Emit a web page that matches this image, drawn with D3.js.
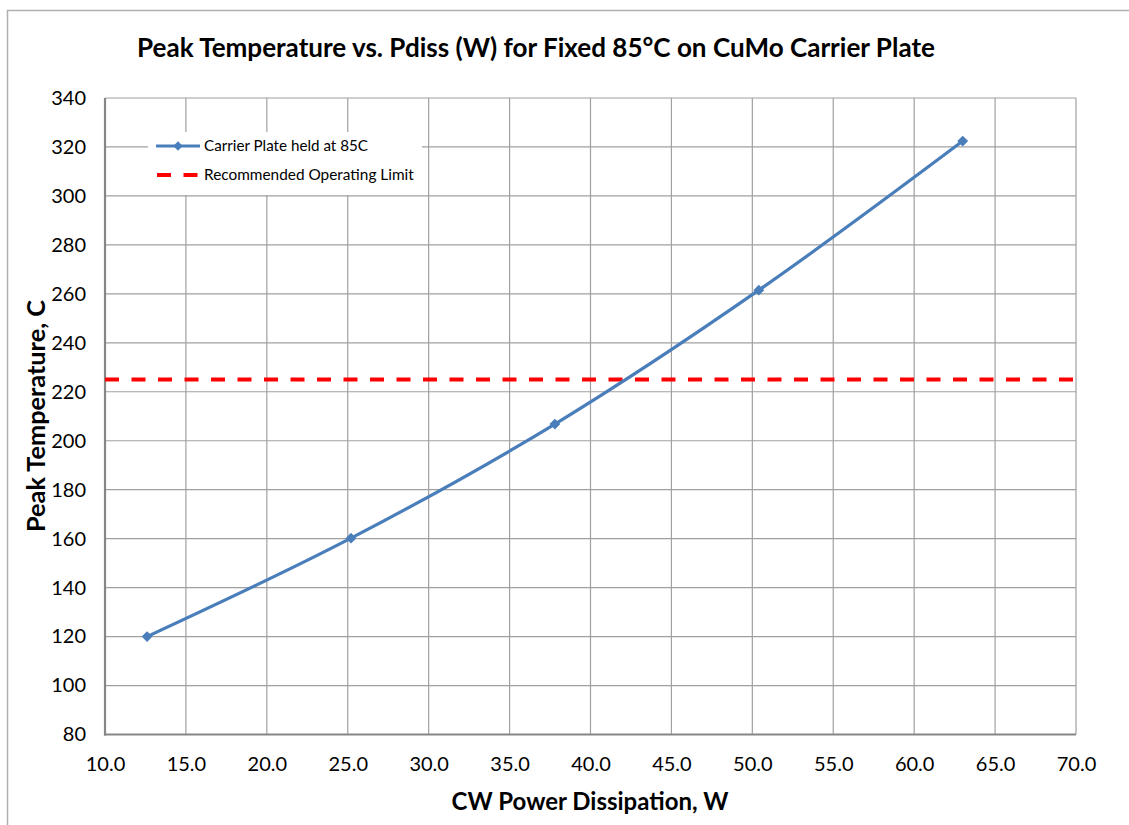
<!DOCTYPE html>
<html><head><meta charset="utf-8">
<script src="https://cdn.jsdelivr.net/npm/d3@7"></script>
<style>body{margin:0;background:#fff}svg{display:block}text{font-family:Lato,"Open Sans",sans-serif;fill:#000}</style>
</head><body>
<svg id="c" width="1129" height="825"></svg>
<script>
const powerW = [12.6, 25.2, 37.8, 50.4, 63.0];
const peakTempC = [120, 160.2, 206.8, 261.5, 322.4];
const limitC = 225;
const xTicks = [10, 15, 20, 25, 30, 35, 40, 45, 50, 55, 60, 65, 70];
const yTicks = [80, 100, 120, 140, 160, 180, 200, 220, 240, 260, 280, 300, 320, 340];
const seriesName = "Carrier Plate held at 85C";
const limitName = "Recommended Operating Limit";
const titleText = "Peak Temperature vs. Pdiss (W) for Fixed 85°C on CuMo Carrier Plate";
const xTitle = "CW Power Dissipation, W";
const yTitle = "Peak Temperature, C";

const svg = d3.select("#c");
const L = 105, R = 1076, T = 98, B = 734.5;
const x = d3.scaleLinear().domain([10, 70]).range([L, R]);
const y = d3.scaleLinear().domain([80, 340]).range([B, T]);

// scale a text's font size so it spans a target width (Calibri substitute)
function fit(sel, target) {
  const fs = +sel.attr("font-size");
  const w = sel.node().getComputedTextLength();
  sel.attr("font-size", (fs * target / w).toFixed(2));
  return sel;
}

// outer chart border
svg.append("rect").attr("x", 7.5).attr("y", 10.5).attr("width", 1300).attr("height", 1000)
  .attr("fill", "none").attr("stroke", "#b0b0b0").attr("stroke-width", 1.5);

// gridlines
const g = svg.append("g");
g.selectAll("line.vx").data(xTicks).join("line")
  .attr("x1", d => x(d)).attr("x2", d => x(d)).attr("y1", T).attr("y2", B)
  .attr("stroke", "#a0a0a0").attr("stroke-width", 1.2);
g.selectAll("line.hy").data(yTicks).join("line")
  .attr("y1", d => y(d)).attr("y2", d => y(d)).attr("x1", L).attr("x2", R)
  .attr("stroke", "#a0a0a0").attr("stroke-width", 1.2);

// axes lines
svg.append("line").attr("x1", L).attr("x2", L).attr("y1", T).attr("y2", B + 1).attr("stroke", "#868686").attr("stroke-width", 2.2);
svg.append("line").attr("x1", L - 1).attr("x2", R).attr("y1", B).attr("y2", B).attr("stroke", "#868686").attr("stroke-width", 2.2);

// tick labels via d3 axes
const xAxis = svg.append("g").attr("transform", `translate(0,${B})`)
  .call(d3.axisBottom(x).tickValues(xTicks).tickFormat(d3.format(".1f")).tickSize(0).tickPadding(22));
const yAxis = svg.append("g").attr("transform", `translate(${L},0)`)
  .call(d3.axisLeft(y).tickValues(yTicks).tickSize(0).tickPadding(19));
[xAxis, yAxis].forEach(a => {
  a.select(".domain").remove();
  a.selectAll("text").attr("font-family", "Lato, sans-serif").attr("font-size", 20).attr("fill", "#000");
});

// limit line
svg.append("line").attr("x1", L).attr("x2", R).attr("y1", y(limitC)).attr("y2", y(limitC))
  .attr("stroke", "#ff0000").attr("stroke-width", 4).attr("stroke-dasharray", "14,12.5");

// series
const pts = powerW.map((p, i) => [x(p), y(peakTempC[i])]);
svg.append("path").attr("d", d3.line().curve(d3.curveCardinal.tension(0))(pts))
  .attr("fill", "none").attr("stroke", "#4a7ebb").attr("stroke-width", 3.2);
const diamond = d3.symbol().type(d3.symbolDiamond2).size(75);
svg.selectAll("path.m").data(pts).join("path").attr("class", "m")
  .attr("transform", d => `translate(${d[0]},${d[1]})`).attr("d", diamond).attr("fill", "#4a7ebb");

// legend
const lg = svg.append("g");
lg.append("rect").attr("x", 148).attr("y", 132).attr("width", 274).attr("height", 63).attr("fill", "#fff");
lg.append("line").attr("x1", 156).attr("x2", 200).attr("y1", 146).attr("y2", 146).attr("stroke", "#4a7ebb").attr("stroke-width", 3.2);
lg.append("path").attr("transform", "translate(178,146)").attr("d", d3.symbol().type(d3.symbolDiamond2).size(55)).attr("fill", "#4a7ebb");
lg.append("line").attr("x1", 156).attr("x2", 200).attr("y1", 175).attr("y2", 175).attr("stroke", "#ff0000").attr("stroke-width", 4).attr("stroke-dasharray", "14,12.5").attr("stroke-dashoffset", -1);
fit(lg.append("text").attr("x", 204).attr("y", 151).attr("font-size", 14).text(seriesName), 164);
fit(lg.append("text").attr("x", 204).attr("y", 180).attr("font-size", 14).text(limitName), 210);

// titles
fit(svg.append("text").attr("x", 536).attr("y", 57).attr("text-anchor", "middle").attr("font-weight", "bold").attr("font-size", 22).text(titleText), 798);
fit(svg.append("text").attr("x", 590).attr("y", 810).attr("text-anchor", "middle").attr("font-weight", "bold").attr("font-size", 20).text(xTitle), 277);
fit(svg.append("text").attr("transform", "translate(45,416) rotate(-90)").attr("text-anchor", "middle").attr("font-weight", "bold").attr("font-size", 20).text(yTitle), 232);
</script>
</body></html>
